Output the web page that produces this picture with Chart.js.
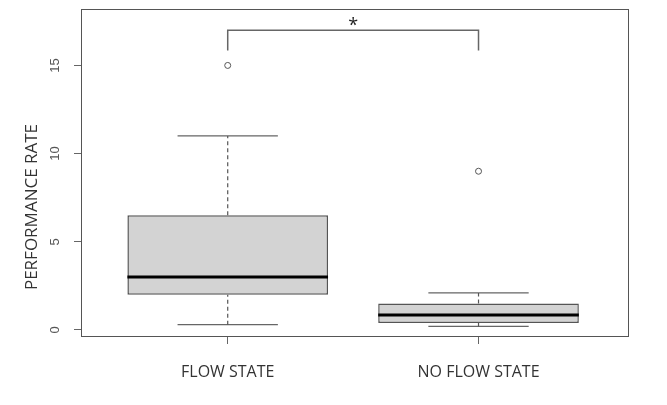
<!DOCTYPE html>
<html>
<head>
<meta charset="utf-8">
<script src="https://cdn.jsdelivr.net/npm/chart.js@4/dist/chart.umd.min.js"></script>
<style>
  html, body { margin: 0; padding: 0; background: #fff; }
  #wrap { width: 667px; height: 405px; }
</style>
</head>
<body>
<div id="wrap"><canvas id="chart" width="667" height="405"></canvas></div>
<script>
// groups and their five-number summaries
const categories = ['FLOW STATE', 'NO FLOW STATE'];
const whiskerLow = [0.3, 0.2];
const q1 = [2.0, 0.4];
const median = [3.0, 0.85];
const q3 = [6.5, 1.5];
const whiskerHigh = [11.0, 2.1];
const outliers = [[15], [9]];

const yTicks = [0, 5, 10, 15];
const yTitle = 'PERFORMANCE RATE';

// significance bracket between the two groups
const bracketLow = 15.85;
const bracketHigh = 17.0;
const bracketLabel = '*';

const boxHalf = 0.4;   // R default boxwex 0.8
const capHalf = 0.2;

const pos = categories.map(function (c, i) { return i + 1 });

function segments(pairs) {
  const out = [];
  pairs.forEach(function (p, i) {
    if (i > 0) out.push({ x: p[0].x, y: null });
    out.push(p[0], p[1]);
  });
  return out;
}

const medianLines = segments(pos.map(function (x, i) {
  return [{ x: x - boxHalf, y: median[i] }, { x: x + boxHalf, y: median[i] }];
}));

const whiskerLines = segments([].concat.apply([], pos.map(function (x, i) {
  return [[{ x: x, y: q3[i] }, { x: x, y: whiskerHigh[i] }],
          [{ x: x, y: whiskerLow[i] }, { x: x, y: q1[i] }]];
})));

const capLines = segments([].concat.apply([], pos.map(function (x, i) {
  return [[{ x: x - capHalf, y: whiskerHigh[i] }, { x: x + capHalf, y: whiskerHigh[i] }],
          [{ x: x - capHalf, y: whiskerLow[i] }, { x: x + capHalf, y: whiskerLow[i] }]];
})));

const outlierPoints = [];
outliers.forEach(function (list, i) {
  list.forEach(function (v) { outlierPoints.push({ x: pos[i], y: v }) });
});

const bracket = [
  { x: pos[0], y: bracketLow }, { x: pos[0], y: bracketHigh },
  { x: pos[1], y: bracketHigh }, { x: pos[1], y: bracketLow }
];

const frame = {
  id: 'frame',
  afterDraw(chart) {
    const { ctx, chartArea: a, scales } = chart;
    ctx.save();
    ctx.strokeStyle = '#555';
    ctx.lineWidth = 1;
    ctx.strokeRect(a.left + 0.5, a.top + 0.5, a.right - a.left - 1, a.bottom - a.top - 1);

    // significance mark
    ctx.fillStyle = '#222';
    ctx.font = '18px "Open Sans"';
    ctx.textAlign = 'center';
    ctx.textBaseline = 'alphabetic';
    const cx = scales.x.getPixelForValue((pos[0] + pos[1]) / 2);
    const cy = scales.y.getPixelForValue(bracketHigh);
    ctx.fillText(bracketLabel, cx, cy + 1);

    // axis title, rotated
    ctx.translate(32, 207);
    ctx.rotate(-Math.PI / 2);
    ctx.fillStyle = '#333';
    ctx.font = '17px "Open Sans"';
    ctx.textBaseline = 'middle';
    ctx.fillText(yTitle, 0, 0);
    ctx.restore();
  }
};

const lineBase = { type: 'line', pointRadius: 0, fill: false, tension: 0, spanGaps: false };

new Chart(document.getElementById('chart'), {
  type: 'line',
  data: {
    datasets: [
      Object.assign({}, lineBase, { data: medianLines, borderColor: '#000', borderWidth: 3, borderCapStyle: 'butt' }),
      {
        type: 'bar',
        data: pos.map(function (x, i) { return { x: x, y: [q1[i], q3[i]] } }),
        backgroundColor: '#d3d3d3',
        borderColor: '#555',
        borderWidth: 1.5,
        borderSkipped: false,
        categoryPercentage: 2 * boxHalf,
        barPercentage: 1,
        grouped: false
      },
      Object.assign({}, lineBase, { data: whiskerLines, borderColor: '#555', borderWidth: 1.2, borderDash: [4, 3] }),
      Object.assign({}, lineBase, { data: capLines, borderColor: '#666', borderWidth: 1.2 }),
      {
        type: 'scatter',
        data: outlierPoints,
        pointStyle: 'circle',
        pointRadius: 3,
        pointBorderWidth: 1,
        pointBorderColor: '#555',
        pointBackgroundColor: '#fff'
      },
      Object.assign({}, lineBase, { data: bracket, borderColor: '#666', borderWidth: 1.5 })
    ]
  },
  options: {
    responsive: false,
    animation: false,
    layout: { padding: { left: 0, right: 38, top: 9, bottom: 0 } },
    plugins: { legend: { display: false }, tooltip: { enabled: false } },
    scales: {
      x: {
        type: 'linear',
        min: 0.415,
        max: 2.6,
        offset: false,
        afterBuildTicks(scale) { scale.ticks = pos.map(function (v) { return { value: v } }) },
        afterFit(scale) { scale.height = 68; scale.paddingLeft = 0; scale.paddingRight = 0 },
        border: { display: false },
        grid: { offset: false, drawOnChartArea: false, drawTicks: true, tickLength: 7, color: '#666' },
        ticks: {
          padding: 19,
          color: '#333',
          font: { family: 'Open Sans', size: 16 },
          maxRotation: 0,
          autoSkip: false,
          callback: function (v) { return categories[v - 1] }
        }
      },
      y: {
        min: -0.4,
        max: 18.2,
        afterBuildTicks(scale) { scale.ticks = yTicks.map(function (v) { return { value: v } }) },
        afterFit(scale) { scale.width = 81; scale.paddingTop = 0; scale.paddingBottom = 0 },
        border: { display: false },
        grid: { drawOnChartArea: false, drawTicks: true, tickLength: 7, color: '#666' },
        ticks: {
          padding: 11,
          color: '#555',
          crossAlign: 'center',
          minRotation: 90,
          maxRotation: 90,
          font: { family: 'Liberation Sans', size: 13 }
        }
      }
    }
  },
  plugins: [frame]
});
</script>
</body>
</html>
